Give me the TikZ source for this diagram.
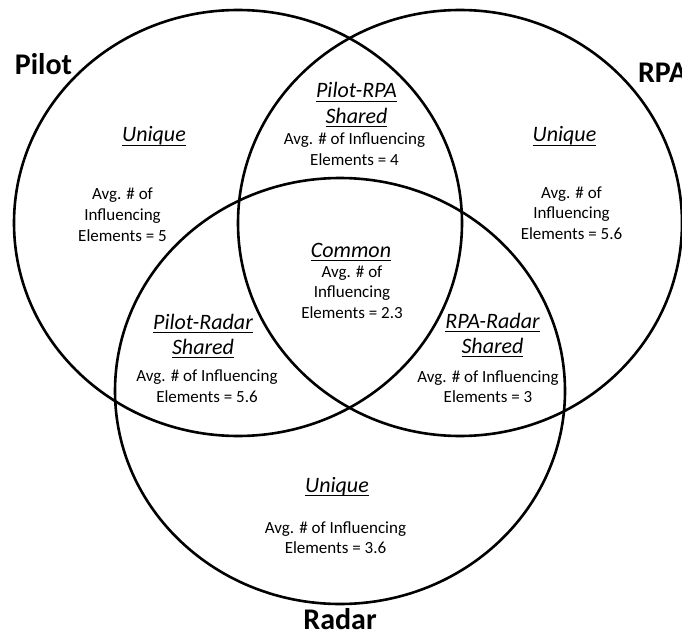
\documentclass[tikz,border=0pt]{standalone}
\usepackage{fontspec}
\setmainfont{Carlito}

% stacked, centred lines whose reference point is the first baseline
\newcommand\blk[1]{\begin{tabular}[t]{@{}c@{}}#1\end{tabular}}
% heading underline, set close under the baseline
\newcommand\hdu[1]{\leavevmode\setbox0\hbox{#1}\rlap{\rule[-3.9pt]{\wd0}{1.2pt}}\box0}

\tikzset{
  ring/.style={line width=2.6pt, black},
  setname/.style={anchor=base, inner sep=0pt, font=\fontsize{30}{34}\selectfont\bfseries},
  head/.style={anchor=base, inner sep=0pt, font=\fontsize{22}{25.5}\selectfont\itshape},
  body/.style={anchor=base, inner sep=0pt, font=\fontsize{17}{20.6}\selectfont},
}

\begin{document}
\begin{tikzpicture}[x=1pt,y=1pt]
  \path[fill=white,use as bounding box] (0,0) rectangle (682,633);

  % the three sets
  \draw[ring] (238,410) ellipse [x radius=224, y radius=213];
  \draw[ring] (460,410) ellipse [x radius=222, y radius=213];
  \draw[ring] (340,242) ellipse [x radius=225, y radius=213];

  % set names
  \node[setname] (pilot) at (43.5,558) {Pilot};
  \node[setname] (rpa)   at (662.5,550) {RPA};
  \node[setname] (radar) at (340,4) {Radar};

  % Pilot only
  \node[head] (pu-h) at (154,491) {\hdu{Unique}};
  \node[body] (pu-b) at (122.5,433) {\blk{Avg. \# of\\Influencing\\Elements = 5}};

  % RPA only
  \node[head] (ru-h) at (564.5,491) {\hdu{Unique}};
  \node[body] (ru-b) at (571.5,435) {\blk{Avg. \# of\\Influencing\\Elements = 5.6}};

  % Radar only
  \node[head] (du-h) at (337,141) {\hdu{Unique}};
  \node[body] (du-b) at (335.5,100) {\blk{Avg. \# of Influencing\\Elements = 3.6}};

  % Pilot and RPA
  \node[head] (pr-h) at (356.5,535) {\blk{\hdu{Pilot-RPA}\\\hdu{Shared}}};
  \node[body] (pr-b) at (354.5,488) {\blk{Avg. \# of Influencing\\Elements = 4}};

  % Pilot and Radar
  \node[head] (pd-h) at (203,304) {\blk{\hdu{Pilot-Radar}\\\hdu{Shared}}};
  \node[body] (pd-b) at (207,251.5) {\blk{Avg. \# of Influencing\\Elements = 5.6}};

  % RPA and Radar
  \node[head] (rd-h) at (492.5,305) {\blk{\hdu{RPA-Radar}\\\hdu{Shared}}};
  \node[body] (rd-b) at (488,251) {\blk{Avg. \# of Influencing\\Elements = 3}};

  % all three
  \node[head] (cm-h) at (351,376) {\hdu{Common}};
  \node[body] (cm-b) at (352,356) {\blk{Avg. \# of\\Influencing\\Elements = 2.3}};
\end{tikzpicture}
\end{document}
